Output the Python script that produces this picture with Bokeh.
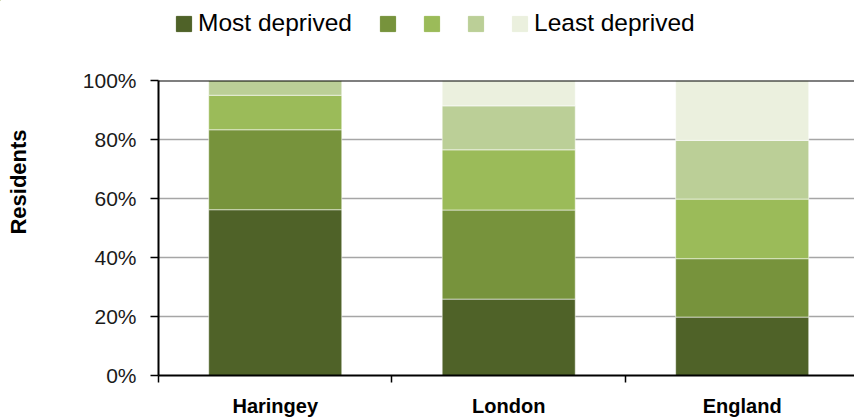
import math
from bokeh.plotting import figure
from bokeh.layouts import column, row
from bokeh.models import (Range1d, FixedTicker, Legend, LegendItem, Label, Span,
                          ColumnDataSource)
from bokeh.embed import file_html
from bokeh.resources import INLINE

# ---- data ----
areas = ["Haringey", "London", "England"]
quintiles = ["Most deprived", "Q2", "Q3", "Q4", "Least deprived"]
q1_most = [56.2, 25.9, 19.8]
q2 = [27.1, 30.2, 19.8]
q3 = [11.7, 20.4, 20.2]
q4 = [5.0, 14.9, 19.9]
q5_least = [0.0, 8.6, 20.3]
y_ticks = [0, 20, 40, 60, 80, 100]
colors = ["#4F6228", "#77933C", "#9BBB59", "#BBCF97", "#EBF0DE"]

FONT = "Liberation Sans"
W, H = 854, 419
TOP_H = 44
LEFT_W = 40

xs = [i + 0.5 for i in range(len(areas))]
src = ColumnDataSource(dict(x=xs, q1=q1_most, q2=q2, q3=q3, q4=q4, q5=q5_least))
stack_cols = ["q1", "q2", "q3", "q4", "q5"]

# ---------------- main chart ----------------
p = figure(width=W - LEFT_W, height=H - TOP_H, output_backend="svg", toolbar_location=None,
           x_range=Range1d(0, 2.981), y_range=Range1d(0, 100),
           min_border_left=158 - LEFT_W, min_border_right=0, min_border_top=80 - TOP_H,
           min_border_bottom=41)
p.outline_line_color = None
p.background_fill_color = "white"
p.border_fill_color = "white"

renderers = p.vbar_stack(stack_cols, x="x", width=0.57, source=src,
                         color=colors, line_color="white", line_alpha=0.55, line_width=1)

yax = p.yaxis[0]
yax.ticker = FixedTicker(ticks=y_ticks)
yax.major_label_overrides = {t: f"{t}%" for t in y_ticks}
yax.axis_line_color = "black"
yax.axis_line_width = 2
yax.major_tick_line_color = "black"
yax.major_tick_line_width = 1.5
yax.major_tick_out = 8
yax.major_tick_in = 0
yax.minor_tick_line_color = None
yax.major_label_text_font = FONT
yax.major_label_text_font_size = "21px"
yax.major_label_text_color = "#1a1a1a"
yax.major_label_standoff = 14

xax = p.xaxis[0]
xax.ticker = FixedTicker(ticks=xs, minor_ticks=[float(i) for i in range(len(areas) + 1)])
xax.major_label_overrides = {x: a for x, a in zip(xs, areas)}
xax.axis_line_color = "black"
xax.axis_line_width = 2
xax.major_tick_line_color = None
xax.minor_tick_line_color = "black"
xax.minor_tick_line_width = 1.5
xax.minor_tick_out = 7
xax.minor_tick_in = 0
xax.major_label_text_font = FONT
xax.major_label_text_font_size = "20px"
xax.major_label_text_font_style = "bold"
xax.major_label_text_color = "black"
xax.major_label_standoff = 12

p.xgrid.grid_line_color = None
p.ygrid.ticker = FixedTicker(ticks=y_ticks[1:-1])
p.ygrid.grid_line_color = "#a6a6a6"
p.ygrid.grid_line_width = 1.6

p.add_layout(Span(location=y_ticks[-1], dimension="width", line_color="black", line_width=2))

# ---------------- legend strip ----------------
def blank(width, height, x_range, y_range):
    f = figure(width=width, height=height, output_backend="svg", toolbar_location=None,
               x_axis_type=None, y_axis_type=None, min_border=0,
               x_range=x_range, y_range=y_range)
    f.outline_line_color = None
    f.background_fill_color = "white"
    f.border_fill_color = "white"
    return f

# the strip's ranges lie away from the stacked bars, so only the legend shows
top = blank(W, TOP_H, Range1d(100, 101), Range1d(-1000, -999))
swatches = top.vbar_stack(stack_cols, x="x", width=0.57, source=src, color=colors)

def mk_legend(items, loc):
    return Legend(items=items, location=loc, orientation="horizontal",
                  glyph_width=19, glyph_height=19, label_standoff=5, spacing=0,
                  label_width=20, padding=0, margin=0,
                  border_line_color=None, background_fill_alpha=0,
                  label_text_font=FONT, label_text_font_size="24.5px",
                  label_text_color="black")

legA = mk_legend([LegendItem(label=quintiles[0], renderers=[swatches[0]])], (174, 7))
legB = mk_legend([LegendItem(label="", renderers=[swatches[1]]),
                  LegendItem(label="", renderers=[swatches[2]]),
                  LegendItem(label="", renderers=[swatches[3]]),
                  LegendItem(label=quintiles[4], renderers=[swatches[4]])], (378, 7))
top.add_layout(legA)
top.add_layout(legB)

# ---------------- y-axis title strip ----------------
left = blank(LEFT_W, H - TOP_H, Range1d(0, 1), Range1d(0, 1))
left.add_layout(Label(x=17.5, y=193.5, x_units="screen", y_units="screen",
                      text="Residents", angle=math.pi / 2, text_align="center",
                      text_baseline="middle", text_font=FONT, text_font_size="22px",
                      text_font_style="bold", text_color="black"))

layout = column(top, row(left, p, spacing=0), spacing=0)
open("out.html", "w").write(file_html(layout, INLINE))
